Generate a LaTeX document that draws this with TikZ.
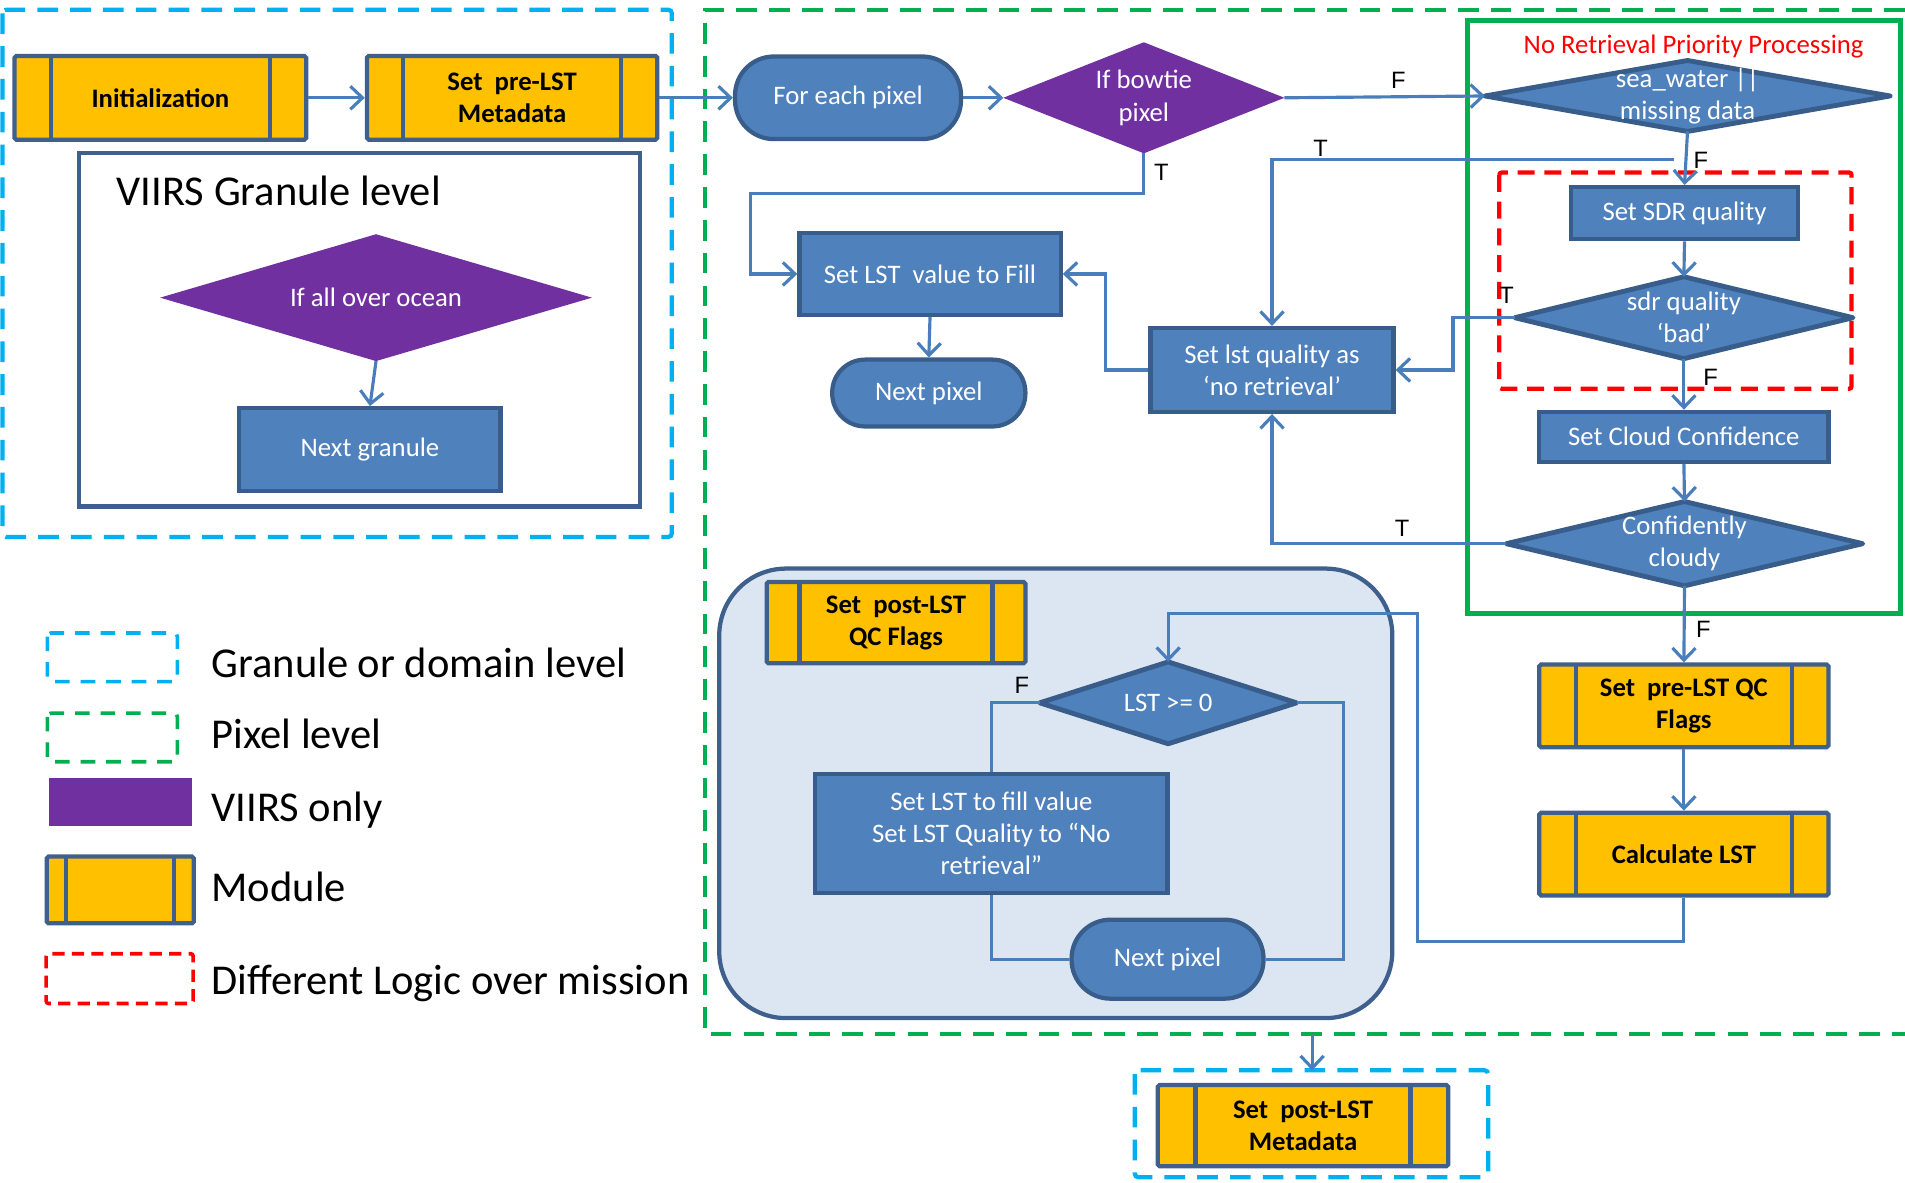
\documentclass[tikz,border=0pt]{standalone}
\usepackage{fontspec}
\setmainfont{Carlito}
\newfontfamily\labelfont{Liberation Sans}
\usetikzlibrary{arrows.meta}
\definecolor{boxfill}{HTML}{4F81BD}
\definecolor{boxline}{HTML}{385D8A}
\definecolor{modfill}{HTML}{FFC000}
\definecolor{modline}{HTML}{3F5F8C}
\definecolor{wire}{HTML}{4A7EBB}
\definecolor{viirs}{HTML}{7030A0}
\definecolor{granule}{HTML}{00B0F0}
\definecolor{pixel}{HTML}{00B050}
\definecolor{mission}{HTML}{FF0000}
\definecolor{regionfill}{HTML}{DCE6F2}
\pgfdeclarelayer{back}
\pgfdeclarelayer{shapes}
\pgfsetlayers{back,shapes,main}
\newcommand\bodysize{\fontsize{22}{26.5}\selectfont}
\newcommand\legsize{\fontsize{35}{40}\selectfont}
% diamond outline through the four edge midpoints of a rectangular node
\newcommand\decisionshape[2]{%
  \begin{pgfonlayer}{shapes}
    \path[#2] (#1.west) -- (#1.north) -- (#1.east) -- (#1.south) -- cycle;
  \end{pgfonlayer}}

\begin{document}
\begin{tikzpicture}[x=1pt, y=-1pt,
  conn/.style={draw=wire, line width=2.6pt},
  arr/.style={conn, -{Straight Barb[length=10pt, width=19pt]}},
  proc/.style={rectangle, fill=boxfill, draw=boxline, line width=3.5pt,
    text=white, font=\bodysize, align=center, inner sep=0pt},
  term/.style={proc, rounded corners=#1},
  term/.default=32,
  module/.style={rectangle, fill=modfill, draw=modline, line width=3.5pt,
    font=\bodysize\bfseries, align=center, inner sep=0pt, rounded corners=1.5pt,
    path picture={\draw[modline, line width=3.5pt]
      ([xshift=#1]path picture bounding box.north west) --
      ([xshift=#1]path picture bounding box.south west)
      ([xshift=-#1]path picture bounding box.north east) --
      ([xshift=-#1]path picture bounding box.south east);}},
  module/.default=30,
  decision/.style={rectangle, inner sep=0pt, text=white, font=\bodysize, align=center},
  bluediamond/.style={fill=boxfill, draw=boxline, line width=4pt, line join=round},
  purplediamond/.style={fill=viirs},
  tf/.style={font=\labelfont\fontsize{19.5}{22}\selectfont, inner sep=0pt},
  legtext/.style={anchor=west, font=\legsize, inner sep=0pt, text height=0.65em, text depth=0pt},
  granbox/.style={draw=granule, line width=3.5pt, dash pattern=on 17pt off 10pt, rounded corners=3pt},
  pixbox/.style={draw=pixel, line width=3.5pt, dash pattern=on 17pt off 10pt},
  missionbox/.style={draw=mission, line width=3.5pt, dash pattern=on 14pt off 8pt, rounded corners=2pt},
  region/.style={rectangle, fill=regionfill, draw=modline, line width=3.5pt, rounded corners=55pt},
]
\useasboundingbox (0,0) rectangle (1568,973);

% ---- group outlines ----
\draw[granbox] (2,8) rectangle (553,442);
\draw[pixbox] (1568,8) -- (580,8) -- (580,851) -- (1568,851);
\draw[draw=pixel, line width=4pt] (1208,17) rectangle (1564,505);
\draw[missionbox] (1234,142) rectangle (1524,320);
\draw[granbox] (934,881) rectangle (1225,969);
\draw[draw=modline, line width=3.5pt] (65,126) rectangle (527,417);
\begin{pgfonlayer}{back}
  \node[region, minimum width=554, minimum height=370] (postregion) at (869,653) {};
\end{pgfonlayer}

% ---- granule level ----
\node[module, minimum width=240, minimum height=69] (init) at (132,80.5) {Initialization};
\node[module, minimum width=239, minimum height=69] (prelst) at (421.5,80.5) {Set\ \ pre-LST\\Metadata};
\node[legtext] (grantitle) at (96,166) {VIIRS Granule level};
\node[decision, minimum width=355, minimum height=104] (ocean) at (309.5,245) {If all over ocean};
\decisionshape{ocean}{purplediamond}
\node[proc, minimum width=215, minimum height=68] (nextgran) at (304.5,370) {Next granule};

% ---- pixel level ----
\node[term, minimum width=186, minimum height=68] (foreach) at (698,80.5) {For each pixel};
\node[decision, minimum width=231, minimum height=91] (bowtie) at (941.5,80.5) {If bowtie\\pixel};
\decisionshape{bowtie}{purplediamond}
\node[text=mission, font=\bodysize, inner sep=0pt] (nrpp) at (1394,38) {No Retrieval Priority Processing};
\node[decision, minimum width=333, minimum height=58] (seaw) at (1389,79) {sea\_water ||\\missing data};
\decisionshape{seaw}{bluediamond}
\node[proc, minimum width=215, minimum height=67] (fill) at (765.5,225.5) {Set LST\ \ value to Fill};
\node[term=27, minimum width=159, minimum height=55] (nextpix) at (764.5,323.5) {Next pixel};
\node[proc, minimum width=200, minimum height=69] (lstq) at (1047,304.5) {Set lst quality as\\‘no retrieval’};
\node[proc, minimum width=187, minimum height=43] (sdrset) at (1386.5,175.5) {Set SDR quality};
\node[decision, minimum width=278, minimum height=67] (sdrq) at (1386,261.5) {sdr quality\\‘bad’};
\decisionshape{sdrq}{bluediamond}
\node[proc, minimum width=238, minimum height=41] (cloudconf) at (1386,359.5) {Set Cloud Confidence};
\node[decision, minimum width=293, minimum height=69] (cloudy) at (1386.5,447.5) {Confidently\\cloudy};
\decisionshape{cloudy}{bluediamond}
\node[module, minimum width=238, minimum height=68] (preqc) at (1386,581) {Set\ \ pre-LST QC\\Flags};
\node[module, minimum width=238, minimum height=68] (calc) at (1386,703) {Calculate LST};

% ---- post-LST QC block ----
\node[module=27, minimum width=213, minimum height=67] (postqc) at (737.5,512.5) {Set\ \ post-LST\\QC Flags};
\node[decision, minimum width=211, minimum height=67] (lstge) at (961.5,578.5) {LST >= 0};
\decisionshape{lstge}{bluediamond}
\node[proc, minimum width=290, minimum height=98] (fillval) at (816,686) {Set LST to fill value\\Set LST Quality to “No\\retrieval”};
\node[term, minimum width=158, minimum height=65] (nextpix2) at (961,789.5) {Next pixel};

% ---- post-LST metadata ----
\node[module=31, minimum width=239, minimum height=67] (postmeta) at (1072.5,926.5) {Set\ \ post-LST\\Metadata};

% ---- connectors ----
\coordinate (seawT) at (1378,131);
\coordinate (pixout) at (1080,851);
\coordinate (postin) at (1080,881);
\draw[arr] (init) -- (prelst);
\draw[arr] (prelst) -- (foreach);
\draw[arr] (ocean.south) -- (nextgran.north);
\draw[arr] (foreach) -- (bowtie.west);
\draw[arr] (bowtie.east) -- (seaw.west);
\draw[arr] (bowtie.south) |- (618,159) |- (fill.west);
\draw[arr] (fill.south) -- (nextpix.north);
\draw[arr] (lstq.west) -- (910,304.5) |- (fill.east);
\draw[arr] (seawT) -| (lstq.north);
\draw[arr] (seaw.south) -- (sdrset.north);
\draw[arr] (sdrset.south) -- (sdrq.north);
\draw[arr] (sdrq.west) -- (1196,261.5) |- (lstq.east);
\draw[arr] (sdrq.south) -- (cloudconf.north);
\draw[arr] (cloudconf.south) -- (cloudy.north);
\draw[arr] (cloudy.west) -| (lstq.south);
\draw[arr] (cloudy.south) -- (preqc.north);
\draw[arr] (preqc.south) -- (calc.north);
\draw[arr] (calc.south) |- (1167,775) |- (lstge.north |- 0,505) -- (lstge.north);
\draw[conn] (lstge.west) -| (fillval.north);
\draw[conn] (fillval.south) |- (nextpix2.west);
\draw[conn] (lstge.east) -- (1106,578.5) |- (nextpix2.east);
\draw[arr] (pixout) -- (postin);

% ---- branch labels ----
\node[tf] (f1) at (1151,66) {F};
\node[tf] (t1) at (1087,122) {T};
\node[tf] (t2) at (956,142) {T};
\node[tf] (f2) at (1400,132) {F};
\node[tf] (t3) at (1240,243) {T};
\node[tf] (f3) at (1408,311) {F};
\node[tf] (t4) at (1154,435) {T};
\node[tf] (f4) at (1402,518) {F};
\node[tf] (f5) at (841,564) {F};

% ---- legend ----
\draw[granbox, line width=3pt, dash pattern=on 12pt off 9pt] (39,521) rectangle (146,561);
\node[legtext] (lg1) at (174,554) {Granule or domain level};
\draw[pixbox, line width=3pt, dash pattern=on 12pt off 9pt, rounded corners=3pt] (39,587) rectangle (146,627);
\node[legtext] (lg2) at (174,613) {Pixel level};
\fill[viirs] (40,640) rectangle (158,680);
\node[legtext] (lg3) at (174,673) {VIIRS only};
\node[module=16, minimum width=121, minimum height=55] (legmod) at (99,732.5) {};
\node[legtext] (lg4) at (174,739) {Module};
\draw[missionbox, line width=3pt, dash pattern=on 10pt off 6pt] (38,785) rectangle (159,826);
\node[legtext] (lg5) at (174,815) {Different Logic over mission};
\end{tikzpicture}
\end{document}
